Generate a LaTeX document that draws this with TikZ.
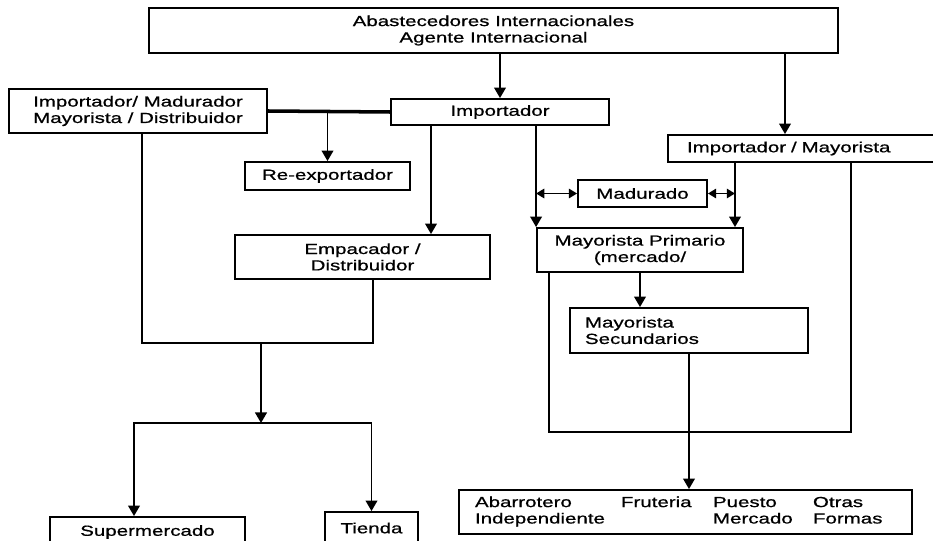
\documentclass[tikz,border=0pt]{standalone}
\usepackage{fontspec}
\setmainfont[FakeStretch=1.4, FakeBold=0.8]{Liberation Sans}
\usetikzlibrary{arrows.meta}
\begin{document}
\begin{tikzpicture}[x=0.03cm, y=-0.03cm,
		caja/.style={draw, line width=1.6pt, inner sep=0pt, align=center, font=\fontsize{12.5}{14}\selectfont},
		linea/.style={line width=1.6pt},
		gruesa/.style={line width=3pt},
		flecha/.style={line width=1.6pt, -{Triangle[width=10pt,length=9pt]}},
		doble/.style={line width=1.6pt, {Triangle[width=8pt,length=7pt]}-{Triangle[width=8pt,length=7pt]}}]
			\useasboundingbox (0,0) rectangle (933,541);
			\clip (0,0) rectangle (933,541);
			\node[caja, minimum width=20.67cm, minimum height=1.35cm] (abast) at (493.5,30.5) {Abastecedores Internacionales\\Agente Internacional};
			\node[caja, minimum width=7.74cm, minimum height=1.32cm] (impmad) at (138,111) {Importador/ Madurador\\Mayorista / Distribuidor};
			\node[caja, minimum width=6.54cm, minimum height=0.78cm] (imp) at (500,112) {Importador};
			\node[caja, minimum width=4.95cm, minimum height=0.84cm] (reexp) at (327.5,176) {Re-exportador};
			\node[caja, align=left, inner xsep=0.57cm, text width=7.17cm, minimum height=0.81cm] (impmay) at (806.5,148.5) {Importador / Mayorista};
			\node[caja, minimum width=3.87cm, minimum height=0.81cm] (madur) at (642.5,193.5) {Madurado};
			\node[caja, minimum width=7.65cm, minimum height=1.32cm] (empac) at (362.5,257) {Empacador /\\Distribuidor};
			\node[caja, minimum width=6.18cm, minimum height=1.32cm] (mayprim) at (640,250) {Mayorista Primario\\(mercado/};
			\node[caja, align=left, inner xsep=0.45cm, text width=6.24cm, minimum height=1.35cm] (maysec) at (689,330.5) {Mayorista\\Secundarios};
			\node[caja, align=left, inner xsep=0.48cm, text width=12.63cm, minimum height=1.32cm] (abarr) at (685.5,512) {%
				\begin{tabular}{@{}p{4.38cm}@{}p{2.76cm}@{}p{3cm}@{}l@{}}
					Abarrotero & Fruteria & Puesto & Otras\\
					Independiente & & Mercado & Formas
				\end{tabular}};
			\node[caja, minimum width=5.85cm, minimum height=0.9cm] (super) at (147.5,532) {Supermercado};
			\node[caja, minimum width=2.79cm, minimum height=0.96cm] (tienda) at (371.5,528) {Tienda};
			\coordinate (loopL) at (373,343);
			\coordinate (split) at (261,423);
			\coordinate (brL) at (134,423);
			\coordinate (loopR) at (851,432);
			\draw[flecha] (abast.south -| imp.north) -- (imp.north);
			\draw[flecha] (abast.south -| 785,0) -- (impmay.north -| 785,0);
			\draw[gruesa] (impmad.east) -- (imp.west);
			\draw[flecha] (reexp.north |- impmad.east) -- (reexp.north);
			\draw[flecha] (imp.south -| 431,0) -- (empac.north -| 431,0);
			\draw[flecha] (imp.south -| mayprim.north west) -- (mayprim.north west);
			\draw[doble] (madur.west -| mayprim.north west) -- (madur.west);
			\draw[doble] (madur.east) -- (madur.east -| 735,0);
			\draw[flecha] (impmay.south -| 735,0) -- (mayprim.north -| 735,0);
			\draw[linea] (mayprim.south -| 549,0) |- (loopR) -- (loopR |- impmay.south);
			\draw[flecha] (mayprim.south) -- (mayprim.south |- maysec.north);
			\draw[flecha] (maysec.south) -- (maysec.south |- abarr.north);
			\draw[linea] (impmad.south -| 142,0) |- (loopL) -- (loopL |- empac.south);
			\draw[flecha] (loopL -| split) -- (split);
			\draw[flecha] (split) -- (brL) -- (brL |- super.north);
			\draw[flecha] (split) -| (tienda.north);
		\end{tikzpicture}
\end{document}
